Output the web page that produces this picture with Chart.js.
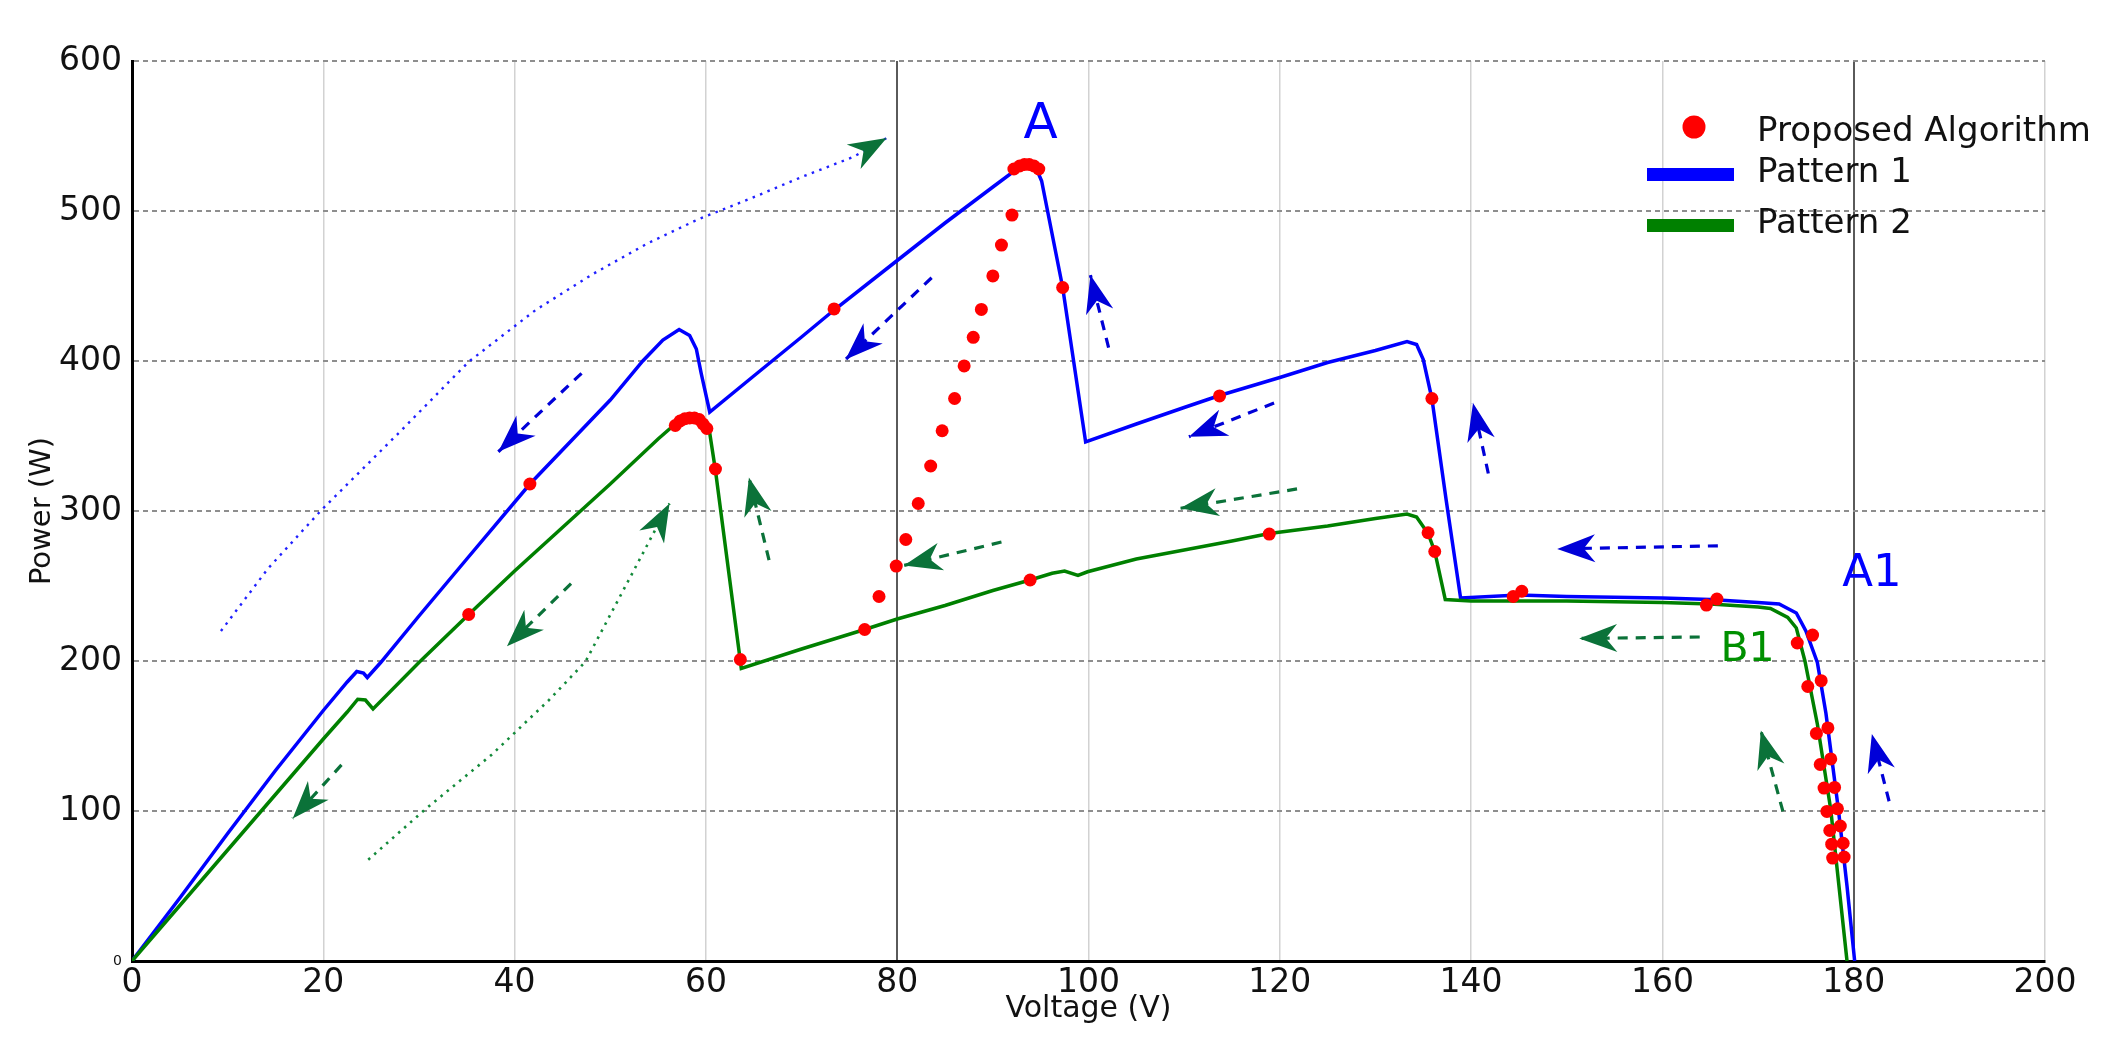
<!DOCTYPE html>
<html>
<head>
<meta charset="utf-8">
<script src="https://cdn.jsdelivr.net/npm/chart.js@4.4.1/dist/chart.umd.min.js"></script>
<style>
  html, body { margin: 0; padding: 0; background: #fff; }
  canvas { display: block; }
</style>
</head>
<body>
<canvas id="pv" width="2128" height="1037" style="width:2128px;height:1037px"></canvas>
<script>
// --- Data ---
const xTickValues = [0, 20, 40, 60, 80, 100, 120, 140, 160, 180, 200];
const yTickValues = [0, 100, 200, 300, 400, 500, 600];

// Pattern 1 (blue P-V curve)
const voltage1 = [0, 5, 10, 15, 20, 22.5, 23.5, 24.2, 24.6, 26, 30, 35, 41.6, 46.4, 50, 53.4, 55.5, 57.2, 58.3, 59.0, 59.5, 60.4,
  65, 70, 73.4, 80, 85, 90, 92.3, 93.5, 94.5, 95.1, 97.3, 99.7, 105, 110, 113.7, 120, 125, 130, 133.3, 134.3, 135.0, 135.9,
  137.4, 138.9, 145, 150, 160, 165, 170, 172.2, 174, 175, 176.2, 177.1, 178.4, 179.3, 180.1];
const power1 = [0, 42, 85, 127, 167, 186, 193, 192, 189, 199, 230, 268, 318, 350, 374, 400, 414, 421, 417, 408, 392, 366,
  390, 416, 434, 467, 492, 516, 527, 530, 529, 520, 449, 346, 358, 369, 377, 389, 399, 407, 413, 411, 401, 375,
  307, 242, 244, 243, 242, 241, 239, 238, 232, 220, 199, 165, 101, 50, 0];

// Pattern 2 (green P-V curve)
const voltage2 = [0, 5, 10, 15, 20, 22.5, 23.6, 24.4, 25.2, 30, 35.2, 40, 45, 50, 55, 56.8, 57.8, 58.8, 59.8, 60.4, 61.0, 63.7,
  70, 76.6, 80, 85, 90, 93.9, 96.2, 97.5, 98.9, 99.9, 105, 110, 115, 118.9, 125, 130, 133.3, 134.3, 135.5, 136.2, 137.3,
  140, 150, 160, 165, 170, 171.3, 173.1, 174, 174.9, 176.2, 177.6, 179.3];
const power2 = [0, 37, 74, 111, 148, 166, 174.5, 174, 168, 199, 231, 260, 289, 318, 348, 358, 361, 362, 360, 352, 327, 195,
  208, 221, 228, 237, 247, 254, 258.5, 260, 257, 259.5, 268, 274, 280, 285, 290, 295, 298, 296, 285, 273, 241,
  240, 240, 239, 238, 236, 235, 229, 222, 200, 158, 101, 0];

// Proposed algorithm operating points
const algoV = [41.6, 73.4, 97.3, 113.7, 135.9, 144.4, 145.3, 164.6, 165.7,
  92.2, 92.8, 93.3, 93.8, 94.3, 94.8,
  35.2, 56.8, 57.3, 57.8, 58.3, 58.8, 59.3, 59.7, 60.1, 61.0, 63.6, 76.6, 93.9, 118.9, 135.5, 136.2,
  78.1, 79.9, 80.9, 82.2, 83.5, 84.7, 86.0, 87.0, 87.95, 88.8, 90.0, 90.9, 92.0,
  174.1, 175.7, 175.2, 176.6, 176.1, 177.3, 176.5, 177.6, 176.9, 178.0, 177.2, 178.3, 177.5, 178.6, 177.7, 178.9, 177.8, 179.0];
const algoP = [318, 434.7, 449, 376.7, 375, 243, 246.5, 237.3, 241.3,
  528, 530, 531, 531, 530, 528,
  231, 357, 360, 361.5, 362, 362, 361, 358, 355, 328, 201, 221, 254, 284.6, 285.5, 273,
  243, 263.3, 281, 305, 330, 353.5, 375, 396.7, 415.8, 434.4, 456.7, 477.3, 497.3,
  212, 217.3, 183, 186.9, 151.7, 155.4, 131, 134.7, 115.3, 115.7, 99.7, 101.5, 87, 90, 77.9, 78.5, 68.6, 69.3];

// Dotted trajectory guides
const blueTrailV = [9.3, 14.2, 19.8, 28.2, 35.2, 42.2, 48.3, 53.9, 59.2, 64.7, 70.1, 75.4, 78.9];
const blueTrailP = [220, 261.5, 300.6, 354, 399.5, 434, 458.4, 478.4, 494.5, 508.4, 522.9, 536, 548.7];
const greenTrailV = [24.7, 30.6, 37.6, 43.6, 47.4, 51.6, 55.8, 56.2];
const greenTrailP = [67.5, 100.8, 137.5, 174, 199.5, 250, 300.6, 305];

// Dashed direction arrows [tailV, tailP, tipV, tipP]
const blueArrows = [
  [47.0, 391.8, 38.3, 339.5], [83.6, 455.5, 74.6, 401], [102.1, 408.9, 100.2, 457.3],
  [119.4, 372, 110.5, 349.5], [141.8, 325, 140.2, 372], [165.8, 276.8, 149.0, 274.7],
  [183.7, 106.5, 181.9, 151.3]
];
const greenArrows = [
  [45.9, 251.6, 39.2, 209.8], [21.9, 130.7, 16.8, 95], [66.6, 267.2, 64.5, 322.4],
  [90.9, 279.3, 80.7, 263.7], [121.8, 314.7, 109.6, 301.8], [163.9, 216, 151.3, 215],
  [172.6, 99.7, 170.3, 153.6]
];

// Point labels [text, V, P]
const pointLabels = [['A', 95.0, 557, 'blue'], ['A1', 181.9, 258, 'blue'], ['B1', 168.9, 207, 'green']];

// --- Styling ---
const FONT = '"DejaVu Sans", Verdana, sans-serif';
const BLUE = '#0000ff';
const GREEN = '#008000';
const ARROW_BLUE = '#0000d8';
const ARROW_GREEN = '#0b7239';

const pts = (xs, ys) => xs.map((x, i) => ({ x, y: ys[i] }));

const datasets = [
  { label: 'Proposed Algorithm', data: pts(algoV, algoP), showLine: false, pointRadius: 6.5,
    pointBackgroundColor: '#ff0000', pointBorderWidth: 0, order: 0 },
  { label: 'Pattern 1', data: pts(voltage1, power1), showLine: true, borderColor: BLUE, borderWidth: 3.5,
    pointRadius: 0, order: 2 },
  { label: 'Pattern 2', data: pts(voltage2, power2), showLine: true, borderColor: GREEN, borderWidth: 3.5,
    pointRadius: 0, order: 1 },
  { label: 'trail1', data: pts(blueTrailV, blueTrailP), showLine: true, borderColor: '#2020ff', borderWidth: 2.4,
    borderDash: [2.5, 5.5], pointRadius: 0, order: 3 },
  { label: 'trail2', data: pts(greenTrailV, greenTrailP), showLine: true, borderColor: '#138a3a', borderWidth: 2.6,
    borderDash: [2.5, 5.5], pointRadius: 0, order: 3 },
];
blueArrows.forEach(a => datasets.push({ label: 'arrow', data: [{ x: a[0], y: a[1] }, { x: a[2], y: a[3] }],
  showLine: true, borderColor: ARROW_BLUE, borderWidth: 3.2, borderDash: [10, 8], pointRadius: 0, order: 4 }));
greenArrows.forEach(a => datasets.push({ label: 'arrow', data: [{ x: a[0], y: a[1] }, { x: a[2], y: a[3] }],
  showLine: true, borderColor: ARROW_GREEN, borderWidth: 3.2, borderDash: [10, 8], pointRadius: 0, order: 4 }));

function drawHead(ctx, x1, y1, x2, y2, color) {
  const len = 38, half = 14;
  const ang = Math.atan2(y2 - y1, x2 - x1);
  ctx.save();
  ctx.translate(x2, y2);
  ctx.rotate(ang);
  ctx.beginPath();
  ctx.moveTo(0, 0);
  ctx.lineTo(-len, -half);
  ctx.lineTo(-len * 0.7, 0);
  ctx.lineTo(-len, half);
  ctx.closePath();
  ctx.fillStyle = color;
  ctx.fill();
  ctx.restore();
}

const overlay = {
  id: 'overlay',
  afterDatasetsDraw(chart) {
    const { ctx, chartArea: ca, scales: { x, y } } = chart;
    const px = v => x.getPixelForValue(v), py = v => y.getPixelForValue(v);

    // arrowheads
    blueArrows.forEach(a => drawHead(ctx, px(a[0]), py(a[1]), px(a[2]), py(a[3]), ARROW_BLUE));
    greenArrows.forEach(a => drawHead(ctx, px(a[0]), py(a[1]), px(a[2]), py(a[3]), ARROW_GREEN));
    const bn = blueTrailV.length - 1, gn = greenTrailV.length - 1;
    drawHead(ctx, px(blueTrailV[bn - 1]), py(blueTrailP[bn - 1]), px(blueTrailV[bn]), py(blueTrailP[bn]), ARROW_GREEN);
    drawHead(ctx, px(greenTrailV[gn - 2]), py(greenTrailP[gn - 2]), px(greenTrailV[gn]), py(greenTrailP[gn]), ARROW_GREEN);

    // point labels
    ctx.save();
    ctx.textAlign = 'center';
    ctx.textBaseline = 'middle';
    pointLabels.forEach(([t, v, p, c]) => {
      const size = t === 'A' ? 50 : (t === 'A1' ? 45 : 41);
      ctx.font = `${size}px ${FONT}`;
      ctx.fillStyle = c === 'blue' ? BLUE : '#009000';
      ctx.fillText(t, px(v), py(p));
    });
    ctx.restore();

    // legend
    const lx = ca.right - 398, ty = ca.top;
    ctx.save();
    ctx.fillStyle = '#ff0000';
    ctx.beginPath();
    ctx.arc(ca.right - 351, ty + 66, 11.5, 0, Math.PI * 2);
    ctx.fill();
    ctx.fillStyle = BLUE;
    ctx.fillRect(lx, ty + 107, 87, 13);
    ctx.fillStyle = GREEN;
    ctx.fillRect(lx, ty + 158, 87, 13);
    ctx.fillStyle = '#111';
    ctx.font = `34px ${FONT}`;
    ctx.textBaseline = 'middle';
    ctx.textAlign = 'left';
    ctx.fillText('Proposed Algorithm', ca.right - 288, ty + 71);
    ctx.fillText('Pattern 1', ca.right - 288, ty + 112);
    ctx.fillText('Pattern 2', ca.right - 288, ty + 163);
    ctx.restore();
  }
};

new Chart(document.getElementById('pv'), {
  type: 'scatter',
  data: { datasets },
  plugins: [overlay],
  options: {
    responsive: false,
    animation: false,
    devicePixelRatio: 1,
    layout: { padding: { top: 61, right: 83, bottom: 0, left: 0 } },
    plugins: { legend: { display: false }, tooltip: { enabled: false } },
    scales: {
      x: {
        type: 'linear', min: 0, max: 200,
        afterBuildTicks: s => { s.ticks = xTickValues.map(v => ({ value: v })); },
        afterFit: s => { s.height = 76; },
        grid: {
          drawTicks: false,
          color: c => {
            const v = c.tick ? c.tick.value : null;
            if (v === 0) return 'rgba(0,0,0,0)';
            return (v === 80 || v === 180) ? '#5a5a5a' : '#d2d2d2';
          },
          lineWidth: c => (c.tick && (c.tick.value === 80 || c.tick.value === 180)) ? 2 : 1.5
        },
        border: { color: '#000', width: 3 },
        ticks: { color: '#111', font: { family: FONT, size: 33 }, padding: 3, maxRotation: 0, autoSkip: false },
        title: { display: true, text: 'Voltage (V)', color: '#111', font: { family: FONT, size: 30 },
          padding: { top: 0, bottom: 10 } }
      },
      y: {
        type: 'linear', min: 0, max: 600,
        afterBuildTicks: s => { s.ticks = yTickValues.map(v => ({ value: v })); },
        afterFit: s => { s.width = 132; },
        grid: {
          drawTicks: false,
          color: c => (c.tick && c.tick.value === 0) ? 'rgba(0,0,0,0)' : '#8e8e8e',
          lineWidth: 2
        },
        border: { color: '#000', width: 3, dash: [5, 4] },
        ticks: {
          color: '#111', padding: 10,
          font: c => ({ family: FONT, size: (c.tick && c.tick.value === 0) ? 14 : 33 })
        },
        title: { display: true, text: 'Power (W)', color: '#111', font: { family: FONT, size: 29 },
          padding: { top: 25, bottom: 0 } }
      }
    }
  }
});
</script>
</body>
</html>
